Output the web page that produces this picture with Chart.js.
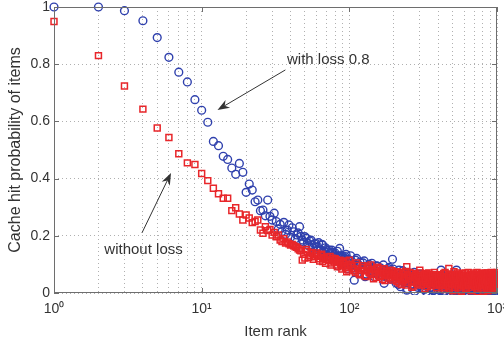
<!DOCTYPE html>
<html><head><meta charset="utf-8">
<script src="https://cdn.jsdelivr.net/npm/chart.js@4"></script>
<style>html,body{margin:0;padding:0;background:#fff;}canvas{display:block}</style>
</head><body>
<canvas id="c" width="504" height="341"></canvas>
<script>
// Item ranks (x values, shared by both series)
const ranks = [
1,2,3,4,5,6,7,8,9,10,11,12,13,14,15,16,17,18,19,20,21,22,23,24,25,26,27,28,29,30,31,32,33,34,35,36,37,38,39,40,
42,44,46,48,50,52,54,56,58,60,62,64,66,68,70,72,74,76,78,80,82,84,86,88,90,92,94,96,98,100,
104,108,112,116,120,124,128,132,136,140,144,148,152,156,160,164,168,172,176,180,184,188,192,196,200,
205,210,215,220,225,230,235,240,245,250,255,260,265,270,275,280,285,290,295,300,
305,310,315,320,325,330,335,340,345,350,355,360,365,370,375,380,385,390,395,400,
406,412,418,424,430,436,442,448,454,460,466,472,478,484,490,496,502,508,514,520,
526,532,538,544,550,556,562,568,574,580,586,592,598,604,610,616,622,628,634,640,
646,652,658,664,670,676,682,688,694,700,706,712,718,724,730,736,742,748,754,760,
766,772,778,784,790,796,802,808,814,820,826,832,838,844,850,856,862,868,874,880,
886,892,898,904,910,916,922,928,934,940,946,952,958,964,970,976,982,988,994,1000
];
// Cache hit probability, with loss 0.8 (blue circles)
const withLoss = [
1.0,1.0,0.987,0.952,0.893,0.824,0.772,0.738,0.676,0.639,
0.597,0.530,0.515,0.478,0.467,0.437,0.415,0.453,0.422,0.352,
0.381,0.360,0.319,0.325,0.288,0.290,0.270,0.325,0.268,0.255,
0.279,0.250,0.223,0.240,0.215,0.247,0.205,0.220,0.238,0.195,
0.214,0.203,0.232,0.185,0.197,0.175,0.182,0.168,0.172,0.160,
0.176,0.150,0.168,0.145,0.152,0.144,0.138,0.150,0.130,0.140,
0.125,0.095,0.156,0.120,0.128,0.112,0.127,0.085,0.118,0.115,
0.110,0.045,0.121,0.098,0.080,0.105,0.057,0.092,0.100,0.075,
0.088,0.057,0.094,0.070,0.083,0.062,0.078,0.034,0.072,0.066,
0.085,0.052,0.070,0.118,0.060,
0.048,0.070,0.030,0.062,0.055,0.078,0.040,0.058,0.010,0.066,
0.045,0.052,0.028,0.060,0.072,0.038,0.050,0.020,0.057,0.044,
0.066,0.032,0.050,0.012,0.046,0.060,0.025,0.040,0.055,0.018,
0.048,0.036,0.062,0.008,0.042,0.030,0.052,0.002,0.038,0.046,
0.030,0.008,0.080,0.045,0.022,0.038,0.004,0.052,0.028,0.035,
0.015,0.048,0.026,0.060,0.010,0.040,0.032,0.002,0.055,0.024,
0.036,0.080,0.012,0.044,0.028,0.006,0.050,0.034,0.018,0.042,
0.025,0.058,0.008,0.038,0.030,0.014,0.046,0.022,0.003,0.036,
0.040,0.016,0.052,0.027,0.009,0.034,0.044,0.020,0.030,0.001,
0.038,0.024,0.048,0.012,0.032,0.026,0.005,0.042,0.018,0.035,
0.028,0.010,0.045,0.022,0.036,0.003,0.030,0.040,0.014,0.025,
0.034,0.007,0.044,0.020,0.029,0.012,0.038,0.024,0.002,0.032,
0.018,0.040,0.026,0.008,0.035,0.022,0.030,0.004,0.042,0.015,
0.028,0.036,0.010,0.024,0.032,0.005,0.038,0.020,0.027,0.012
];
// Cache hit probability, without loss (red squares)
const withoutLoss = [
0.949,0.830,0.724,0.643,0.577,0.544,0.487,0.455,0.449,0.418,
0.393,0.366,0.347,0.331,0.331,0.288,0.298,0.276,0.255,0.273,
0.262,0.246,0.250,0.255,0.220,0.209,0.232,0.218,0.222,0.203,
0.212,0.197,0.203,0.185,0.180,0.190,0.175,0.178,0.172,0.168,
0.165,0.160,0.150,0.115,0.122,0.145,0.130,0.138,0.127,0.140,
0.120,0.132,0.110,0.125,0.118,0.115,0.128,0.105,0.112,0.120,
0.098,0.108,0.115,0.095,0.104,0.110,0.088,0.074,0.100,0.115,
0.092,0.078,0.105,0.068,0.080,0.095,0.060,0.088,0.072,0.098,
0.065,0.082,0.055,0.090,0.070,0.078,0.048,0.085,0.062,0.074,
0.052,0.080,0.066,0.045,0.072,
0.058,0.040,0.070,0.050,0.030,0.064,0.046,0.075,0.092,0.036,
0.060,0.052,0.020,0.068,0.044,0.056,0.034,0.062,0.048,0.080,
0.028,0.054,0.040,0.066,0.015,0.050,0.058,0.036,0.070,0.044,
0.025,0.060,0.048,0.032,0.064,0.040,0.054,0.018,0.046,0.058,
0.042,0.060,0.025,0.050,0.034,0.068,0.012,0.046,0.055,0.030,
0.040,0.086,0.022,0.052,0.036,0.064,0.008,0.044,0.058,0.028,
0.048,0.038,0.066,0.018,0.054,0.032,0.060,0.042,0.005,0.050,
0.036,0.062,0.026,0.046,0.070,0.014,0.040,0.056,0.030,0.048,
0.020,0.058,0.038,0.064,0.028,0.044,0.010,0.052,0.034,0.060,
0.042,0.024,0.066,0.036,0.050,0.004,0.046,0.058,0.030,0.040,
0.062,0.018,0.048,0.034,0.056,0.026,0.068,0.038,0.012,0.052,
0.044,0.030,0.060,0.022,0.050,0.040,0.070,0.008,0.046,0.036,
0.056,0.028,0.064,0.042,0.016,0.052,0.034,0.062,0.024,0.048,
0.069,0.038,0.058,0.014,0.050,0.032,0.066,0.026,0.044,0.072
];
// Further item ranks in the dense tail (interleaved with the ones above)
const ranks2 = [
41,43,45,47,49,51,53,55,57,59,61,63,65,67,69,71,73,75,77,79,81,83,85,87,89,91,93,95,97,99,
102,106,110,114,118,122,126,130,134,138,142,146,150,154,158,162,166,170,174,178,182,186,190,194,198,
202,207,212,217,222,227,232,237,242,247,252,257,262,267,272,277,282,287,292,297,
302,307,312,317,322,327,332,337,342,347,352,357,362,367,372,377,382,387,392,397,
403,409,415,421,427,433,439,445,451,457,463,469,475,481,487,493,499,505,511,517,
523,529,535,541,547,553,559,565,571,577,583,589,595,601,607,613,619,625,631,637,
643,649,655,661,667,673,679,685,691,697,703,709,715,721,727,733,739,745,751,757,
763,769,775,781,787,793,799,805,811,817,823,829,835,841,847,853,859,865,871,877,
883,889,895,901,907,913,919,925,931,937,943,949,955,961,967,973,979,985,991,997
];
const withLoss2 = [
0.228,0.190,0.210,0.198,0.178,0.192,0.165,0.185,0.158,0.174,
0.162,0.148,0.170,0.140,0.158,0.132,0.150,0.122,0.142,0.134,
0.118,0.146,0.110,0.130,0.124,0.102,0.120,0.135,0.108,0.098,
0.130,0.100,0.115,0.070,0.108,0.090,0.112,0.066,0.096,0.085,
0.104,0.072,0.080,0.095,0.060,0.088,0.074,0.098,0.058,0.082,
0.068,0.090,0.048,0.076,0.084,
0.064,0.035,0.054,0.080,0.022,0.046,0.068,0.036,0.058,0.015,
0.050,0.070,0.030,0.044,0.062,0.006,0.048,0.040,0.066,0.026,
0.054,0.034,0.016,0.058,0.042,0.052,0.004,0.038,0.060,0.028,
0.046,0.020,0.054,0.036,0.010,0.048,0.040,0.026,0.056,0.014,
0.022,0.050,0.012,0.040,0.030,0.058,0.006,0.036,0.046,0.018,
0.054,0.026,0.034,0.002,0.044,0.024,0.062,0.014,0.038,0.030,
0.008,0.048,0.020,0.040,0.032,0.052,0.004,0.028,0.042,0.016,
0.036,0.010,0.046,0.024,0.054,0.002,0.034,0.020,0.044,0.012,
0.030,0.050,0.018,0.038,0.006,0.026,0.042,0.014,0.032,0.046,
0.020,0.004,0.036,0.028,0.048,0.010,0.024,0.040,0.016,0.030,
0.044,0.008,0.034,0.022,0.002,0.040,0.026,0.012,0.036,0.046,
0.018,0.030,0.006,0.042,0.024,0.014,0.038,0.002,0.028,0.034,
0.010,0.044,0.020,0.032,0.004,0.026,0.038,0.016,0.030,0.008,
0.036,0.022,0.012,0.040,0.028,0.002,0.034,0.018,0.024,0.010
];
const withoutLoss2 = [
0.170,0.162,0.155,0.148,0.135,0.152,0.124,0.142,0.118,0.134,
0.128,0.112,0.136,0.120,0.104,0.126,0.114,0.098,0.122,0.108,
0.116,0.092,0.112,0.102,0.084,0.106,0.096,0.112,0.090,0.080,
0.100,0.085,0.072,0.096,0.064,0.088,0.078,0.058,0.092,0.070,
0.082,0.050,0.076,0.086,0.062,0.058,0.080,0.068,0.044,0.076,
0.060,0.070,0.054,0.078,0.062,
0.066,0.048,0.074,0.035,0.058,0.070,0.042,0.055,0.028,0.064,
0.050,0.072,0.038,0.060,0.024,0.054,0.066,0.046,0.032,0.058,
0.070,0.040,0.052,0.030,0.062,0.044,0.068,0.022,0.056,0.036,
0.064,0.050,0.028,0.060,0.042,0.072,0.034,0.054,0.046,0.026,
0.052,0.030,0.064,0.040,0.018,0.058,0.046,0.072,0.026,0.054,
0.036,0.062,0.014,0.048,0.066,0.032,0.056,0.042,0.074,0.020,
0.060,0.038,0.050,0.070,0.024,0.044,0.064,0.010,0.056,0.034,
0.068,0.046,0.028,0.058,0.040,0.016,0.062,0.050,0.036,0.072,
0.026,0.054,0.044,0.066,0.008,0.048,0.060,0.032,0.070,0.040,
0.056,0.022,0.064,0.046,0.034,0.072,0.014,0.052,0.038,0.062,
0.028,0.058,0.044,0.068,0.020,0.050,0.036,0.064,0.006,0.054,
0.042,0.070,0.030,0.060,0.046,0.016,0.066,0.038,0.052,0.024,
0.064,0.034,0.056,0.012,0.048,0.072,0.040,0.028,0.060,0.044,
0.068,0.022,0.054,0.036,0.062,0.018,0.050,0.070,0.032,0.058
];
// Tick labels
const xMajorTicks = [1, 10, 100, 1000];
const xTickLabels = ['10\u2070', '10\u00b9', '10\u00b2', '10\u00b3'];
const yTicks = [0, 0.2, 0.4, 0.6, 0.8, 1];
const yTickLabels = ['0', '0.2', '0.4', '0.6', '0.8', '1'];
// Annotation texts with arrow (data coordinates)
const noteTexts = ['with loss 0.8', 'without loss'];
const noteTextPos = [[72, 0.815], [4.04, 0.150]];
const noteArrowFrom = [[36.9, 0.78], [3.94, 0.21]];
const noteArrowTo = [[12.8, 0.64], [6.2, 0.42]];

const xGrid = [];
[1, 10, 100].forEach(d => { for (let m = 1; m <= 9; m++) xGrid.push(d * m); });
xGrid.push(1000);

const FONT = "'Liberation Sans', Arial, Helvetica, sans-serif";
const toPts = (rs, vals) => rs.map((r, i) => ({ x: r, y: vals[i] }));

const boxPlugin = {
  id: 'box',
  afterDraw(chart) {
    const { ctx, chartArea: a, scales: { x, y } } = chart;
    ctx.save();
    ctx.strokeStyle = '#6e6e6e';
    ctx.lineWidth = 1;
    ctx.strokeRect(a.left + 0.5, a.top + 0.5, a.right - a.left - 1, a.bottom - a.top - 1);
    ctx.beginPath();
    xMajorTicks.forEach(v => {
      const px = Math.round(x.getPixelForValue(v)) + 0.5;
      ctx.moveTo(px, a.bottom); ctx.lineTo(px, a.bottom - 5);
      ctx.moveTo(px, a.top); ctx.lineTo(px, a.top + 5);
    });
    yTicks.forEach(v => {
      const py = Math.round(y.getPixelForValue(v)) + 0.5;
      ctx.moveTo(a.left, py); ctx.lineTo(a.left + 5, py);
      ctx.moveTo(a.right, py); ctx.lineTo(a.right - 5, py);
    });
    ctx.stroke();
    // annotations
    ctx.fillStyle = '#333';
    ctx.strokeStyle = '#333';
    ctx.font = '15px ' + FONT;
    ctx.textAlign = 'center';
    ctx.textBaseline = 'middle';
    noteTexts.forEach((t, i) => {
      ctx.fillText(t, x.getPixelForValue(noteTextPos[i][0]), y.getPixelForValue(noteTextPos[i][1]));
      const x0 = x.getPixelForValue(noteArrowFrom[i][0]), y0 = y.getPixelForValue(noteArrowFrom[i][1]);
      const x1 = x.getPixelForValue(noteArrowTo[i][0]), y1 = y.getPixelForValue(noteArrowTo[i][1]);
      const ang = Math.atan2(y1 - y0, x1 - x0);
      const L = 12, W = 4.5;
      ctx.lineWidth = 1;
      ctx.beginPath();
      ctx.moveTo(x0, y0);
      ctx.lineTo(x1 - Math.cos(ang) * L * 0.7, y1 - Math.sin(ang) * L * 0.7);
      ctx.stroke();
      ctx.beginPath();
      ctx.moveTo(x1, y1);
      ctx.lineTo(x1 - Math.cos(ang) * L - Math.sin(ang) * W, y1 - Math.sin(ang) * L + Math.cos(ang) * W);
      ctx.lineTo(x1 - Math.cos(ang) * L * 0.7, y1 - Math.sin(ang) * L * 0.7);
      ctx.lineTo(x1 - Math.cos(ang) * L + Math.sin(ang) * W, y1 - Math.sin(ang) * L - Math.cos(ang) * W);
      ctx.closePath();
      ctx.fill();
    });
    ctx.restore();
  }
};

const clipBox = { left: 6, top: 6, right: 1, bottom: 2 };
new Chart(document.getElementById('c'), {
  type: 'scatter',
  data: {
    datasets: [
      { label: 'without loss', data: toPts(ranks, withoutLoss).concat(toPts(ranks2, withoutLoss2)),
        pointStyle: 'rect', pointRadius: 4.2,
        borderColor: '#e8262a', backgroundColor: 'rgba(0,0,0,0)', borderWidth: 1.5, clip: clipBox },
      { label: 'with loss 0.8', data: toPts(ranks, withLoss).concat(toPts(ranks2, withLoss2)),
        pointStyle: 'circle', pointRadius: 3.9,
        borderColor: '#2f40ad', backgroundColor: 'rgba(0,0,0,0)', borderWidth: 1.4, clip: clipBox }
    ]
  },
  options: {
    responsive: false,
    animation: false,
    layout: { padding: { left: 0, top: 7, right: 7, bottom: 0 } },
    plugins: { legend: { display: false }, tooltip: { enabled: false } },
    scales: {
      x: {
        type: 'logarithmic', min: 1, max: 1000,
        afterBuildTicks: s => { s.ticks = xGrid.map(v => ({ value: v })); },
        afterFit: s => { s.height = 48; s.paddingLeft = 0; s.paddingRight = 0; },
        ticks: {
          autoSkip: false, maxRotation: 0, padding: 8, color: '#333',
          font: { family: FONT, size: 14 },
          callback: v => { const i = xMajorTicks.indexOf(v); return i >= 0 ? xTickLabels[i] : ''; }
        },
        grid: { color: '#b0b0b0', lineWidth: 1, drawTicks: false },
        border: { display: false, dash: [1, 3] },
        title: { display: true, text: 'Item rank', color: '#333', font: { family: FONT, size: 15 }, padding: { top: 5, bottom: 0 } }
      },
      y: {
        min: 0, max: 1,
        afterBuildTicks: s => { s.ticks = yTicks.map(v => ({ value: v })); },
        afterFit: s => { s.width = 54; s.paddingTop = 0; s.paddingBottom = 0; },
        ticks: {
          padding: 4, color: '#333', font: { family: FONT, size: 14 },
          callback: v => { const i = yTicks.findIndex(t => Math.abs(t - v) < 1e-9); return i >= 0 ? yTickLabels[i] : ''; }
        },
        grid: { color: '#b0b0b0', lineWidth: 1, drawTicks: false },
        border: { display: false, dash: [1, 3] },
        title: { display: true, text: 'Cache hit probability of items', color: '#333', font: { family: FONT, size: 16 }, padding: { top: 6, bottom: 0 } }
      }
    }
  },
  plugins: [boxPlugin]
});
</script>
</body></html>
